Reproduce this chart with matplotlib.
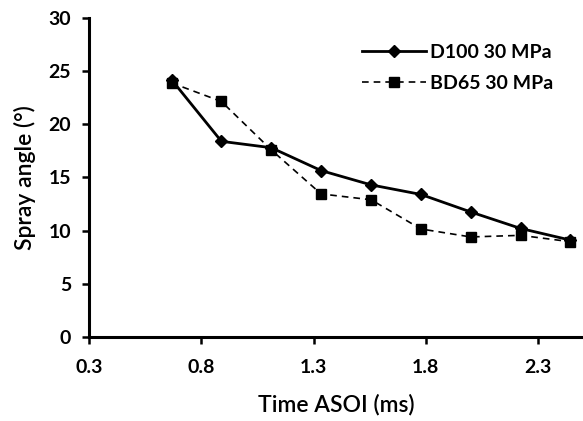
import numpy as np
import matplotlib.pyplot as plt

plt.rcParams['font.family'] = ['Lato', 'DejaVu Sans']

time_ms = [0.667, 0.889, 1.111, 1.333, 1.556, 1.778, 2.0, 2.222, 2.444]
d100 = [24.2, 18.4, 17.8, 15.65, 14.3, 13.4, 11.75, 10.2, 9.1]
bd65 = [23.9, 22.15, 17.6, 13.45, 12.9, 10.15, 9.4, 9.55, 8.95]

fig = plt.figure(figsize=(5.83, 4.21), dpi=100)
ax = fig.add_axes([0.153, 0.2, 0.847, 0.757])

ax.plot(time_ms, d100, color='black', lw=2.0, marker='D', ms=6.5, label='D100 30 MPa')
ax.plot(time_ms, bd65, color='black', lw=1.2, ls=(0, (4, 3)), marker='s', ms=7, label='BD65 30 MPa')

ax.set_xlim(0.3, 2.5)
ax.set_ylim(0, 30)
ax.set_xticks(np.arange(0.3, 2.31, 0.5))
ax.set_yticks(np.arange(0, 31, 5))
ax.set_xticklabels(['0.3', '0.8', '1.3', '1.8', '2.3'])
for lab in ax.get_xticklabels() + ax.get_yticklabels():
    lab.set_fontweight('bold')
    lab.set_fontsize(14)
ax.tick_params(axis='both', direction='out', length=5, width=1.8, pad=8)
ax.tick_params(axis='x', pad=11)

for s in ['top', 'right']:
    ax.spines[s].set_visible(False)
for s in ['left', 'bottom']:
    ax.spines[s].set_linewidth(2.2)

ax.set_xlabel('Time ASOI (ms)', fontsize=16.5, fontweight='semibold', labelpad=13)
ax.set_ylabel('Spray angle (°)', fontsize=16.5, fontweight='semibold', labelpad=9)

leg = ax.legend(loc='upper right', bbox_to_anchor=(0.975, 0.975), frameon=False,
                prop={'weight': 'bold', 'size': 14}, handlelength=3.3,
                labelspacing=0.75, handletextpad=0.2)

fig.savefig('out.png', dpi=100)
